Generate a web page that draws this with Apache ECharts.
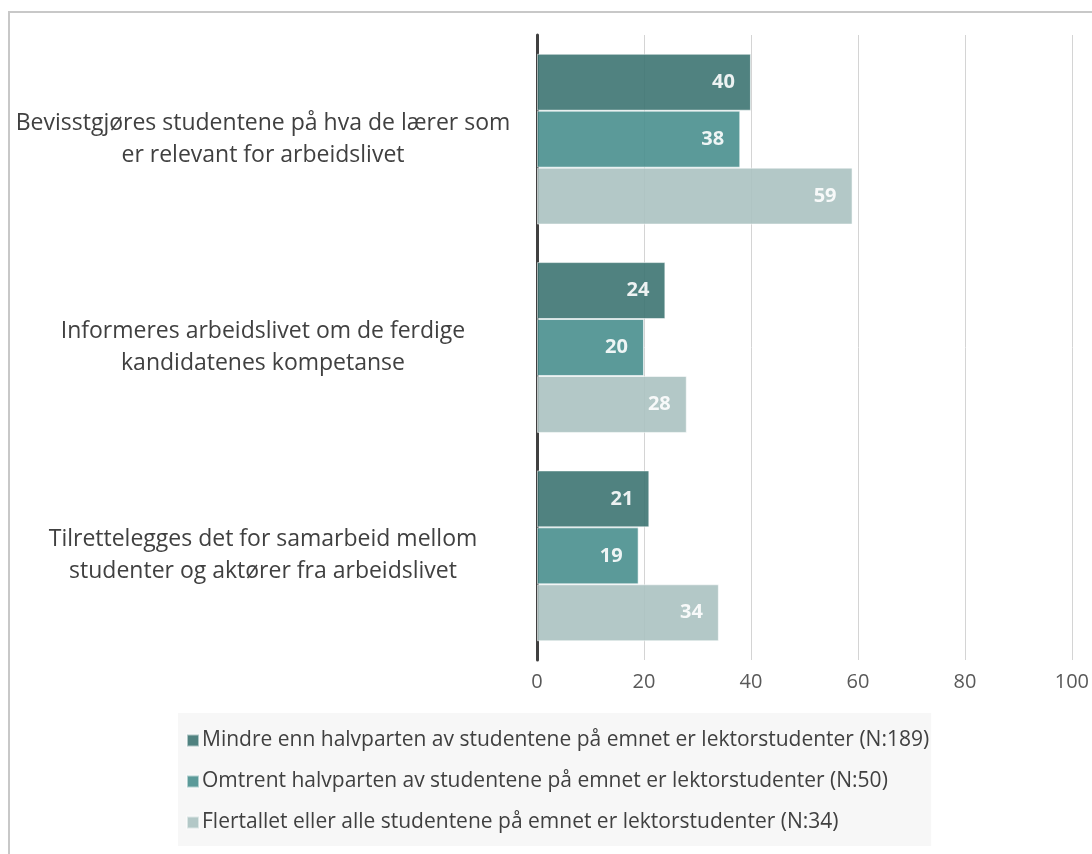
<!DOCTYPE html>
<html>
<head>
<meta charset="utf-8">
<script src="https://cdn.jsdelivr.net/npm/echarts@6/dist/echarts.min.js"></script>
<style>
  html, body { margin: 0; padding: 0; background: #fff; }
  #chart { width: 1092px; height: 854px; }
  .frame {
    position: absolute; left: 8px; top: 11px;
    width: 1200px; height: 900px;
    border-left: 2px solid #c8c8c8; border-top: 2px solid #c8c8c8;
    pointer-events: none;
  }
</style>
</head>
<body>
<div id="chart"></div>
<div class="frame"></div>
<script>
const categories = [
  'Bevisstgjøres studentene på hva de lærer som\ner relevant for arbeidslivet',
  'Informeres arbeidslivet om de ferdige\nkandidatenes kompetanse',
  'Tilrettelegges det for samarbeid mellom\nstudenter og aktører fra arbeidslivet'
]
const seriesNames = [
  'Mindre enn halvparten av studentene på emnet er lektorstudenter (N:189)',
  'Omtrent halvparten av studentene på emnet er lektorstudenter (N:50)',
  'Flertallet eller alle studentene på emnet er lektorstudenter (N:34)'
]
const mindreValues = [40, 24, 21]
const omtrentValues = [38, 20, 19]
const flertalletValues = [59, 28, 34]
const colors = ['#3d7472', '#498f8e', '#abc2c1']

const font = 'Open Sans'
const myChart = echarts.init(document.getElementById('chart'))

const mkSeries = (name, data, color) => ({
  name: name,
  type: 'bar',
  data: data,
  barGap: '0%',
  barCategoryGap: '18%',
  itemStyle: { color: color, opacity: 0.9, borderColor: 'rgba(255,255,255,0.6)', borderWidth: 1 },
  label: {
    show: true,
    position: 'insideRight',
    distance: 16,
    color: '#fff',
    fontWeight: 'bold',
    fontSize: 20,
    fontFamily: font
  }
})

myChart.setOption({
  animation: false,
  grid: { left: 537, right: 18, top: 35, bottom: 194 },
  legend: {
    orient: 'vertical',
    left: 178,
    top: 713,
    backgroundColor: '#f7f7f7',
    padding: [17, 2, 13, 8],
    itemWidth: 12,
    itemHeight: 12,
    itemGap: 20,
    icon: 'rect',
    textStyle: { color: '#404040', fontSize: 21, fontFamily: font, padding: [0, 0, 0, -2] },
    data: seriesNames
  },
  xAxis: {
    type: 'value',
    min: 0,
    max: 100,
    interval: 20,
    axisLine: { show: false },
    axisTick: { show: false },
    axisLabel: { color: '#595959', fontSize: 20, fontFamily: font, margin: 12 },
    splitLine: { lineStyle: { color: '#d4d4d4', width: 1 } }
  },
  yAxis: {
    type: 'category',
    inverse: true,
    data: categories,
    axisLine: { lineStyle: { color: '#404040', width: 3 } },
    axisTick: { show: false },
    axisLabel: {
      color: '#404040',
      fontSize: 23,
      fontFamily: font,
      align: 'center',
      margin: 274,
      lineHeight: 32
    }
  },
  series: [
    mkSeries(seriesNames[0], mindreValues, colors[0]),
    mkSeries(seriesNames[1], omtrentValues, colors[1]),
    mkSeries(seriesNames[2], flertalletValues, colors[2])
  ]
})
</script>
</body>
</html>
